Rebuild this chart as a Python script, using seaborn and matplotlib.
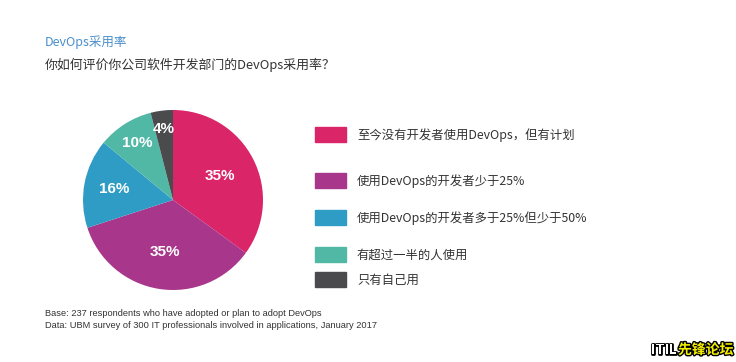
import matplotlib
matplotlib.use("Agg")
import matplotlib.pyplot as plt
import matplotlib.patheffects as pe
import seaborn as sns
import numpy as np

sns.set_theme(style="white")
plt.rcParams['font.family'] = ['Noto Sans CJK SC', 'DejaVu Sans']

categories = ["至今没有开发者使用DevOps，但有计划",
              "使用DevOps的开发者少于25%",
              "使用DevOps的开发者多于25%但少于50%",
              "有超过一半的人使用",
              "只有自己用"]
values = [35, 35, 16, 10, 4]
pct_labels = ["35%", "35%", "16%", "10%", "4%"]
colors = ["#DA2569", "#A8368A", "#2E9CC4", "#52B8A6", "#4B4B4D"]
label_radius = [0.58, 0.59, 0.67, 0.75, 0.80]

title = "DevOps采用率"
subtitle = "你如何评价你公司软件开发部门的DevOps采用率？"
notes = ["Base: 237 respondents who have adopted or plan to adopt DevOps",
         "Data: UBM survey of 300 IT professionals involved in applications, January 2017"]

W, H = 736, 362
fig = plt.figure(figsize=(W / 100, H / 100), dpi=100)
fig.patch.set_facecolor("white")

# pie axes: centre (173,200) px, radius 90 px
cx, cy, r = 173, 200, 90
ax = fig.add_axes([(cx - r) / W, (H - cy - r) / H, 2 * r / W, 2 * r / H])
wedges, _ = ax.pie(values, colors=colors, startangle=90, counterclock=False,
                   radius=1.0, wedgeprops=dict(linewidth=0))
for w, lab, rr in zip(wedges, pct_labels, label_radius):
    ang = np.deg2rad((w.theta1 + w.theta2) / 2)
    ax.text(rr * np.cos(ang), rr * np.sin(ang), lab, ha="center", va="center",
            color="white", fontsize=11, fontweight="bold", family="Liberation Sans")
ax.set_xlim(-1, 1)
ax.set_ylim(-1, 1)
ax.set_aspect("equal")
ax.axis("off")

# legend as patches + text
leg_y = [135, 181, 218, 255, 280]
for c, lab, y in zip(colors, categories, leg_y):
    fig.patches.append(plt.Rectangle((315 / W, 1 - (y + 7) / H), 31 / W, 15 / H,
                                     transform=fig.transFigure, color=c))
    fig.text(357 / W, 1 - y / H, lab, fontsize=8.9, color="#333333", va="center", ha="left")

fig.text(45 / W, 1 - 42 / H, title, fontsize=9, color="#4A8FCC", va="center")
fig.text(45 / W, 1 - 65 / H, subtitle, fontsize=9.3, color="#333333", va="center")
fig.text(45 / W, 1 - 314 / H, notes[0], fontsize=6.7, color="#333333", va="center",
         family="Liberation Sans")
fig.text(45 / W, 1 - 326 / H, notes[1], fontsize=6.7, color="#333333", va="center",
         family="Liberation Sans")

wm1 = fig.text(677 / W, 1 - 350 / H, "ITIL", fontsize=10, color="white",
               ha="right", va="center", fontweight="bold")
wm2 = fig.text(678 / W, 1 - 350 / H, "先锋论坛", fontsize=10, color="#F5F000",
               ha="left", va="center", fontweight="bold")
for t in (wm1, wm2):
    t.set_path_effects([pe.withStroke(linewidth=2, foreground="black")])

fig.savefig("out.png", dpi=100, facecolor="white")
